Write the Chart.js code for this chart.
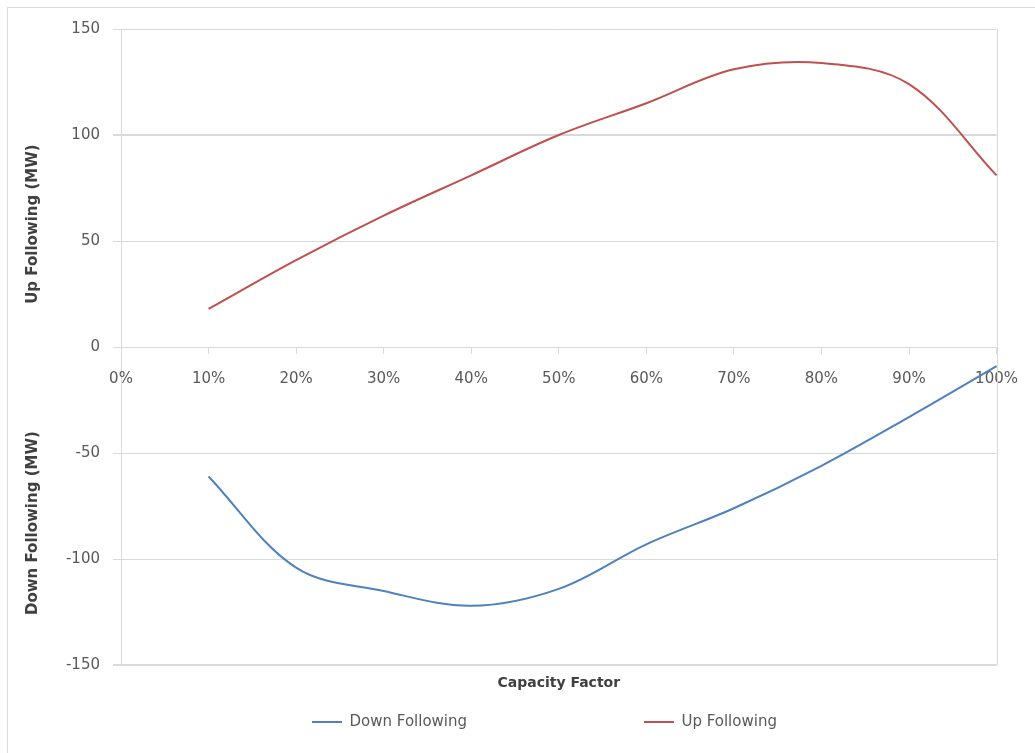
<!DOCTYPE html>
<html>
<head>
<meta charset="utf-8">
<script src="https://cdn.jsdelivr.net/npm/chart.js@4.4.1/dist/chart.umd.min.js"></script>
<style>
html,body{margin:0;padding:0;background:#fff;overflow:hidden;}
#wrap{position:relative;width:1035px;height:753px;}
#frame{position:absolute;left:7px;top:7px;width:1100px;height:900px;border:1px solid #d9d9d9;pointer-events:none;}
canvas{position:absolute;left:0;top:0;}
</style>
</head>
<body>
<div id="wrap"><canvas id="c" width="1035" height="753"></canvas><div id="frame"></div></div>
<script>
// ---- data ----
const tickLabels = ['0%','10%','20%','30%','40%','50%','60%','70%','80%','90%','100%'];
const downFollowing = [null, -61, -104, -115, -122, -114, -93, -76, -56, -33, -9];
const upFollowing   = [null, 18, 41, 62, 81, 100, 115, 131, 134, 124, 81];
const seriesNames = ['Down Following', 'Up Following'];
const xTitle = 'Capacity Factor';
const upTitle = 'Up Following (MW)';
const downTitle = 'Down Following (MW)';

// ---- styling helpers ----
const FAMILY = 'DejaVu Sans';
function padTo(text, px) {
  const c = document.createElement('canvas').getContext('2d');
  c.font = 'normal 15px ' + FAMILY;
  let t = text;
  while (c.measureText(t + ' ').width <= px) t += ' ';
  return t;
}

const decor = {
  id: 'decor',
  beforeDatasetsDraw(chart) {
    const {ctx, chartArea} = chart;
    ctx.save();
    ctx.strokeStyle = '#d9d9d9';
    ctx.lineWidth = 1;
    const xr = Math.round(chartArea.right) + 0.5;
    ctx.beginPath();
    ctx.moveTo(xr, chartArea.top);
    ctx.lineTo(xr, chartArea.bottom);
    ctx.stroke();
    ctx.restore();
  },
  afterDraw(chart) {
    const {ctx, scales: {y}} = chart;
    ctx.save();
    ctx.font = 'bold 15px ' + FAMILY;
    ctx.fillStyle = '#404040';
    ctx.textAlign = 'center';
    ctx.textBaseline = 'middle';
    [[upTitle, 58], [downTitle, -83]].forEach(([t, v]) => {
      ctx.save();
      ctx.translate(33, y.getPixelForValue(v));
      ctx.rotate(-Math.PI / 2);
      ctx.fillText(t, 0, 0);
      ctx.restore();
    });
    ctx.restore();
  }
};

new Chart(document.getElementById('c'), {
  type: 'line',
  data: {
    labels: tickLabels,
    datasets: [
      {label: seriesNames[0], data: downFollowing, borderColor: '#4F81BD', backgroundColor: '#4F81BD',
       borderWidth: 2, pointRadius: 0, pointHoverRadius: 0, tension: 0.35, fill: false, xAxisID: 'x', yAxisID: 'y'},
      {label: seriesNames[1], data: upFollowing, borderColor: '#C0504D', backgroundColor: '#C0504D',
       borderWidth: 2, pointRadius: 0, pointHoverRadius: 0, tension: 0.35, fill: false, xAxisID: 'x', yAxisID: 'y'}
    ]
  },
  options: {
    responsive: false,
    animation: false,
    events: [],
    layout: {padding: {left: 0, right: 38, top: 29, bottom: 13.5}},
    scales: {
      y: {
        min: -150, max: 150,
        ticks: {stepSize: 50, color: '#595959', font: {family: FAMILY, size: 15}, padding: 13},
        grid: {color: '#d9d9d9', tickLength: 8,
               lineWidth: c => (c.tick && (c.tick.value === 100 || c.tick.value === -150)) ? 2 : 1},
        border: {display: true, color: '#d9d9d9'},
        afterFit(scale) { scale.width = 121; }
      },
      x: {
        type: 'category',
        position: {y: 0},
        offset: false,
        grid: {drawOnChartArea: false, tickLength: 6, color: '#d9d9d9'},
        border: {display: true, color: '#d9d9d9'},
        ticks: {color: '#595959', font: {family: FAMILY, size: 15}, padding: 17, maxRotation: 0, autoSkip: false}
      },
      x2: {
        type: 'category',
        position: 'bottom',
        offset: false,
        grid: {display: false, drawTicks: false},
        border: {display: false},
        ticks: {display: false},
        title: {display: true, text: xTitle, color: '#404040',
                font: {family: FAMILY, size: 14, weight: 'bold'}, padding: {top: 10, bottom: 12.5}}
      }
    },
    plugins: {
      tooltip: {enabled: false},
      legend: {
        position: 'bottom',
        fullSize: false,
        labels: {
          usePointStyle: true,
          pointStyle: 'line',
          pointStyleWidth: 30,
          padding: 10,
          color: '#595959',
          font: {family: FAMILY, size: 15},
          generateLabels(chart) {
            const items = Chart.defaults.plugins.legend.labels.generateLabels(chart);
            const targets = [285.5, 127.5];
            items.forEach((it, i) => { it.text = padTo(it.text, targets[i]); });
            return items;
          }
        }
      }
    }
  },
  plugins: [decor]
});
</script>
</body>
</html>
